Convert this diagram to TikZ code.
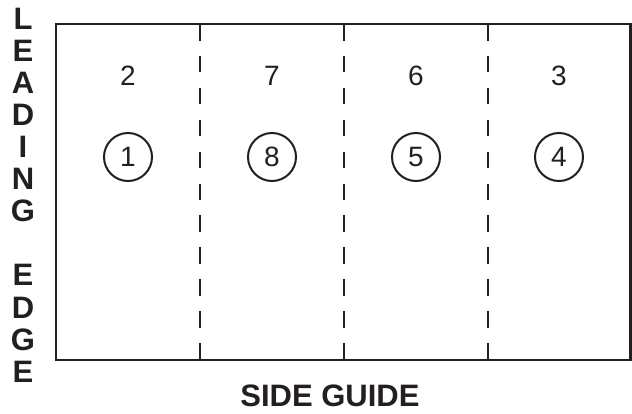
\documentclass[tikz,border=0pt]{standalone}
\usepackage{fontspec}
\setmainfont{Liberation Sans}
\definecolor{ink}{RGB}{35,31,32}
\begin{document}
\begin{tikzpicture}[x=1pt,y=-1pt,
  frame/.style={draw=ink, line width=2.6pt},
  divider/.style={draw=ink, line width=2.6pt, dash pattern=on 16.5pt off 15.4pt},
  num/.style={inner sep=0pt, text=ink, font=\fontsize{28}{28}\selectfont},
  circ/.style={circle, draw=ink, line width=2pt, minimum size=48pt, inner sep=0pt, text=ink, font=\fontsize{28}{28}\selectfont},
  lbl/.style={inner sep=0pt, text=ink, font=\fontsize{31}{31}\selectfont\bfseries}]
\useasboundingbox (0,0) rectangle (632,413);
% frame
\coordinate (tl) at (56,24);
\coordinate (br) at (630.7,360);
\draw[frame] (tl) rectangle (br);
% dividers
\foreach \x/\n in {200/a,344/b,488/c}{
  \coordinate (top\n) at (\x,24);
  \coordinate (bot\n) at (\x,360);
  \draw[divider] (top\n) -- (bot\n);
}
% numbers
\node[num] (n2) at (128,76) {2};
\node[num] (n7) at (272,76) {7};
\node[num] (n6) at (416,76) {6};
\node[num] (n3) at (559,76) {3};
% circled numbers
\node[circ] (c1) at (128,157) {1};
\node[circ] (c8) at (272,157) {8};
\node[circ] (c5) at (416,157) {5};
\node[circ] (c4) at (559,157) {4};
% leading edge
\foreach \l/\k in {L/0,E/1,A/2,D/3,I/4,N/5,G/6,E/8,D/9,G/10,E/11}{
  \node[lbl] (le\k) at (23,18.5+32.1*\k) {\l};
}
% side guide
\node[lbl] (sg) at (330,396) {SIDE GUIDE};
\end{tikzpicture}
\end{document}
